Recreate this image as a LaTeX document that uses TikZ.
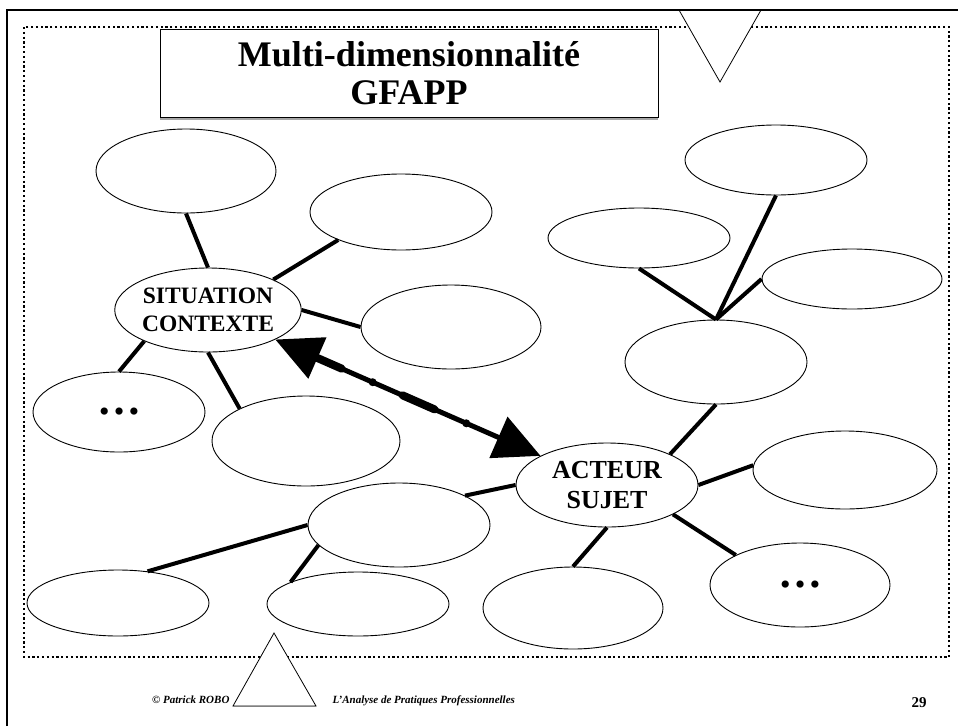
\documentclass[tikz,border=0pt]{standalone}
\usepackage{fontspec}
\setmainfont{Liberation Serif}
\usetikzlibrary{shapes.geometric,arrows.meta}

\tikzset{
  bulle/.style 2 args={draw, ellipse, line width=0.9pt, fill=white, inner sep=0pt,
    minimum width=#1pt, minimum height=#2pt},
  lien/.style={line width=4pt},
  motcle/.style={align=center, font=\bfseries\fontsize{23.5}{28}\selectfont},
  points/.style={font=\bfseries\fontsize{44}{44}\selectfont},
  pied/.style={font=\bfseries\itshape\fontsize{11}{13}\selectfont},
  fleche/.style={line width=5pt,
    {Triangle[length=46pt,width=44pt]}-{Triangle[length=46pt,width=44pt]}},
}

\begin{document}
\begin{tikzpicture}[x=1pt,y=-1pt]
  \useasboundingbox (0,0) rectangle (958,726);

  \draw[line width=2.2pt, dash pattern=on 2.2pt off 2.6pt] (24,27) rectangle (949,657);

  % titre
  \fill[gray!70] (160,116) rectangle (658,119.5);
  \node[draw, fill=white, line width=0.8pt, inner sep=0pt, align=center,
    minimum width=498pt, minimum height=88pt,
    font=\bfseries\fontsize{36}{38}\selectfont] (titre) at (409,73)
    {Multi-dimensionnalité\\GFAPP};

  % situation
  \node[bulle={180}{84}] (tl) at (186,171) {};
  \node[bulle={182}{76}] (tm) at (401,212) {};
  \node[bulle={184}{84}, motcle] (sit) at (208,310) {SITUATION\\CONTEXTE};
  \node[bulle={180}{84}] (dr) at (451,327) {};
  \node[bulle={172}{80}, points] (pg) at (119,412) {…};
  \node[bulle={188}{90}] (bas) at (306,441) {};

  % acteur
  \node[bulle={182}{70}] (ht) at (776,160) {};
  \node[bulle={182}{60}] (hg) at (639,238) {};
  \node[bulle={180}{60}] (hd) at (852,279) {};
  \node[bulle={182}{84}] (ctr) at (716,362) {};
  \node[bulle={182}{84}, motcle, font=\bfseries\fontsize{26}{30}\selectfont] (act) at (607,485) {ACTEUR\\SUJET};
  \node[bulle={184}{78}] (ad) at (845,470) {};
  \node[bulle={180}{84}, points] (pd) at (800,585) {…};
  \node[bulle={180}{82}] (ab) at (573,608) {};
  \node[bulle={182}{84}] (ag) at (399,525) {};
  \node[bulle={182}{66}] (bg) at (118,603) {};
  \node[bulle={182}{64}] (bm) at (358,604) {};

  \draw[lien] (sit.north) -- (tl.south);
  \draw[lien] (sit.25) -- (tm.204);
  \draw[lien] (sit.east) -- (dr.west);
  \draw[lien] (sit.206) -- (pg.north);
  \draw[lien] (sit.south) -- (bas.154);

  \draw[lien] (ctr.north) -- (ht.south);
  \draw[lien] (ctr.north) -- (hg.south);
  \draw[lien] (ctr.north) -- (hd.west);
  \draw[lien] (act.26) -- (ctr.south);
  \draw[lien] (act.east) -- (ad.177);
  \draw[lien] (act.336) -- (pd.155);
  \draw[lien] (act.south) -- (ab.north);
  \draw[lien] (act.west) -- (ag.24);
  \draw[lien] (ag.west) -- (bg.47);
  \draw[lien] (ag.194) -- (bm.162);

  \draw[fleche] (sit) -- (act)
    coordinate[pos=.16] (f1) coordinate[pos=.25] (f2) coordinate[pos=.367] (f3)
    coordinate[pos=.48] (f4) coordinate[pos=.6] (f5) coordinate[pos=.72] (f6);
  \draw[line width=8pt, line cap=round] (f1) -- (f2) (f4) -- (f5);
  \fill (f3) circle (4pt) (f6) circle (4pt);

  % pied de page
  \node[pied, anchor=base east] (auteur) at (233,703) {© Patrick ROBO};
  \node[pied, anchor=base west] (theme) at (329,703) {L'Analyse de Pratiques Professionnelles};
  \node[font=\bfseries\fontsize{15}{18}\selectfont, anchor=base] (page) at (919,707) {29};

  \filldraw[fill=white, line width=0.8pt] (679,10) -- (720,82) -- (761,10);
  \filldraw[fill=white, line width=0.8pt] (233,706) -- (274,633) -- (316,706) -- cycle;
  \draw[gray, line width=1.5pt] (233,706.5) -- (316,706.5);
  \draw[line width=2.6pt] (7,726) -- (7,10) -- (958,10);
\end{tikzpicture}
\end{document}
